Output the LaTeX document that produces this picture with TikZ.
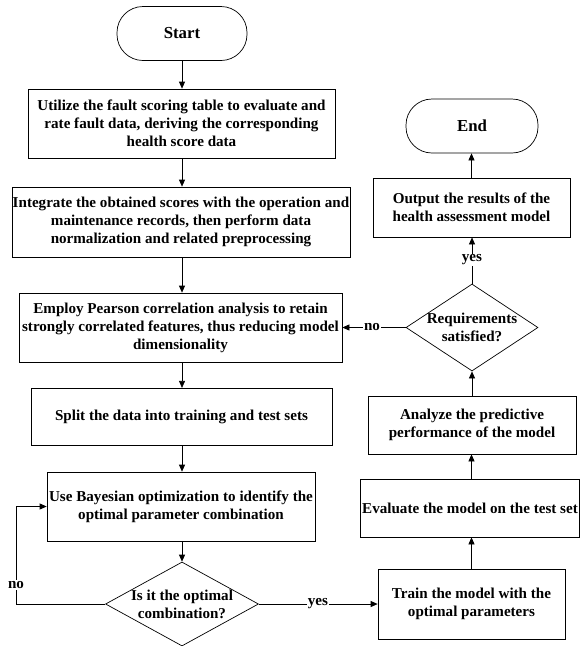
\documentclass[tikz,border=0pt]{standalone}
\usepackage{fontspec}
\setmainfont{Liberation Serif}
\usetikzlibrary{shapes.geometric,arrows.meta}
\begin{document}
\begin{tikzpicture}[x=1pt,y=1pt,
  every node/.style={font=\bfseries\fontsize{15.1}{18}\selectfont},
  box/.style={draw,line width=0.7pt,rectangle,inner sep=0pt,align=center},
  term/.style={draw,line width=0.7pt,rectangle,rounded corners=26pt,inner sep=0pt,minimum width=130pt,minimum height=54pt,font=\bfseries\fontsize{16.8}{19}\selectfont},
  dia/.style={draw,line width=0.7pt,diamond,inner sep=0pt},
  txt/.style={align=center,inner sep=0pt},
  arr/.style={line width=0.7pt,-{Triangle[length=7pt,width=6pt]}},
  lab/.style={fill=white,inner sep=1pt}]
\useasboundingbox (0,0) rectangle (580,-646);
% left column
\node[term] (start) at (182,-33.5) {Start};
\node[box,minimum width=307pt,minimum height=69pt] (b1) at (181.5,-123.5) {Utilize the fault scoring table to evaluate and\\rate fault data, deriving the corresponding\\health score data};
\node[box,minimum width=338pt,minimum height=70pt] (b2) at (181,-222) {Integrate the obtained scores with the operation and\\maintenance records, then perform data\\normalization and related preprocessing};
\node[box,minimum width=323pt,minimum height=69pt] (b3) at (180.5,-327.5) {Employ Pearson correlation analysis to retain\\strongly correlated features, thus reducing model\\dimensionality};
\node[box,minimum width=301pt,minimum height=57pt] (b4) at (181.5,-416.75) {Split the data into training and test sets};
\node[box,minimum width=268pt,minimum height=69pt] (b5) at (181,-506.5) {Use Bayesian optimization to identify the\\optimal parameter combination};
\node[dia,minimum width=153pt,minimum height=84pt] (d1) at (182,-604) {};
\node[txt] (d1t) at (d1) {Is it the optimal\\combination?};
% right column
\node[term,minimum width=132pt] (end) at (472,-126) {End};
\node[box,minimum width=197pt,minimum height=59pt] (out) at (471.5,-207.5) {Output the results of the\\health assessment model};
\node[dia,minimum width=132pt,minimum height=87pt] (d2) at (472,-327.5) {};
\node[txt] (d2t) at (d2) {Requirements\\satisfied?};
\node[box,minimum width=208pt,minimum height=58pt] (an) at (472,-425) {Analyze the predictive\\performance of the model};
\node[box,minimum width=219pt,minimum height=58pt] (ev) at (470,-508) {Evaluate the model on the test set};
\node[box,minimum width=187pt,minimum height=70pt] (tr) at (471.5,-604) {Train the model with the\\optimal parameters};
% connectors left
\draw[arr] (start.south) -- (start.south |- b1.north);
\draw[arr] (start.south |- b1.south) -- (start.south |- b2.north);
\draw[arr] (start.south |- b2.south) -- (start.south |- b3.north);
\draw[arr] (start.south |- b3.south) -- (start.south |- b4.north);
\draw[arr] (start.south |- b4.south) -- (start.south |- b5.north);
\draw[arr] (start.south |- b5.south) -- (d1.north);
\coordinate (c1) at (16,-604);
\draw[arr] (d1.west) -- (c1) -- (c1 |- b5.west) -- (b5.west);
\node[lab] (no1) at (16,-585) {no};
\draw[arr] (d1.east) -- (tr.west);
\node[lab] (yes1) at (318,-604) {yes};
% connectors right
\draw[arr] (tr.north) -- (tr.north |- ev.south);
\draw[arr] (tr.north |- ev.north) -- (tr.north |- an.south);
\draw[arr] (an.north) -- (d2.south);
\draw[arr] (d2.north) -- (d2.north |- out.south);
\node[lab] (yes2) at (472,-260) {yes};
\draw[arr] (out.north) -- (out.north |- end.south);
\draw[arr] (d2.west) -- (d2.west -| b3.east);
\node[lab] (no2) at (372,-327.5) {no};
\end{tikzpicture}
\end{document}
